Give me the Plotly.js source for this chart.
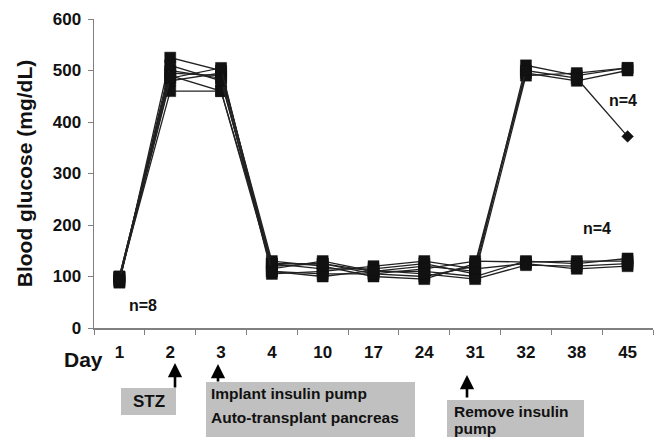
<!DOCTYPE html>
<html>
<head>
<meta charset="utf-8">
<script src="https://cdn.plot.ly/plotly-3.0.1.min.js"></script>
<style>html,body{margin:0;padding:0;background:#fff;}#chart{width:657px;height:437px;}</style>
</head>
<body>
<div id="chart"></div>
<script>
const days = ['1','2','3','4','10','17','24','31','32','38','45'];
const yTicks = [0,100,200,300,400,500,600];
const rat1 = [88, 525, 500, 120, 125, 110, 120, 110, 510, 490, 505];
const rat2 = [98, 500, 485, 110, 105, 105, 100, 120, 495, 480, 500];
const rat3 = [100, 490, 460, 125, 115, 115, 125, 105, 490, 495, 505];
const rat4 = [92, 480, 495, 130, 120, 100, 95, 125, 500, 485, 372];
const rat5 = [97, 460, 460, 115, 130, 110, 110, 100, 130, 125, 135];
const rat6 = [100, 495, 490, 105, 110, 120, 130, 115, 125, 115, 120];
const rat7 = [90, 510, 480, 125, 125, 105, 115, 130, 128, 130, 130];
const rat8 = [94, 485, 505, 110, 100, 112, 105, 95, 122, 120, 125];
const allRats = [rat1, rat2, rat3, rat4, rat5, rat6, rat7, rat8];

// plot area in pixels: left 94, right 653, top 19, bottom 328
const L = 94, R = 653, T = 19, B = 328;
const px = x => (x - L) / (R - L);
const py = y => (B - y) / (B - T);

const traces = allRats.map((vals, i) => {
  const symbols = vals.map((v, j) => (i === 3 && j === vals.length - 1) ? 'diamond' : 'square');
  const sizes = vals.map((v, j) => (i === 3 && j === vals.length - 1) ? 9 : 11);
  return {
    x: days, y: vals, type: 'scatter', mode: 'lines+markers',
    line: {color: '#222222', width: 1.3},
    marker: {color: '#111111', symbol: symbols, size: sizes, opacity: 1, line: {color: '#111111', width: 0.5}},
    opacity: 1,
    cliponaxis: false, showlegend: false, hoverinfo: 'x+y'
  };
});

const F = 'Liberation Sans, Arial, sans-serif';
const boxColor = '#c0c0c0';
function label(text, x, y, size, xanchor) {
  return {text: '<b>' + text + '</b>', xref: 'paper', yref: 'paper', x: px(x), y: py(y),
          xanchor: xanchor || 'center', yanchor: 'middle', showarrow: false,
          font: {size: size, family: F, color: '#111'}};
}
function arrow(x, yTip, yTail) {
  return {text: '', xref: 'paper', yref: 'paper', x: px(x), y: py(yTip), ax: 0, ay: yTail - yTip,
          showarrow: true, arrowhead: 2, arrowsize: 1.1, arrowwidth: 2.6, arrowcolor: '#000'};
}
const layout = {
  width: 657, height: 437,
  margin: {l: L, r: 657 - R, t: T, b: 437 - B},
  paper_bgcolor: '#ffffff', plot_bgcolor: '#ffffff',
  font: {family: F, color: '#111'},
  xaxis: {
    type: 'category', range: [-0.5, 10.5], tickson: 'boundaries',
    showgrid: false, zeroline: false, showline: true, linecolor: '#808080', linewidth: 1.5,
    ticks: 'outside', ticklen: 5, tickcolor: '#808080', tickwidth: 1, ticklabelstandoff: 8,
    tickfont: {family: F, size: 17, color: '#111', weight: 'bold'}, fixedrange: true
  },
  yaxis: {
    range: [0, 600], tickvals: yTicks, showgrid: false, zeroline: false,
    showline: true, linecolor: '#808080', linewidth: 1.5,
    ticks: 'outside', ticklen: 5, tickcolor: '#808080', tickwidth: 1, ticklabelstandoff: 3,
    tickfont: {family: F, size: 17, color: '#111', weight: 'bold'},
    title: {text: 'Blood glucose (mg/dL)', font: {family: F, size: 21, color: '#111', weight: 'bold'}, standoff: 14},
    fixedrange: true
  },
  shapes: [
    {type: 'rect', xref: 'paper', yref: 'paper', x0: px(121), x1: px(176), y0: py(415), y1: py(388), fillcolor: boxColor, line: {width: 0}, layer: 'below'},
    {type: 'rect', xref: 'paper', yref: 'paper', x0: px(206), x1: px(415), y0: py(445), y1: py(382), fillcolor: boxColor, line: {width: 0}, layer: 'below'},
    {type: 'rect', xref: 'paper', yref: 'paper', x0: px(447), x1: px(584), y0: py(445), y1: py(400), fillcolor: boxColor, line: {width: 0}, layer: 'below'}
  ],
  annotations: [
    label('Day', 83, 359, 21),
    label('n=8', 143, 305, 16),
    label('n=4', 623, 101, 16),
    label('n=4', 597, 228, 16),
    label('STZ', 149, 401, 17),
    label('Implant insulin pump', 209, 393, 15.5, 'left'),
    label('Auto-transplant pancreas', 209, 417, 15.5, 'left'),
    label('Remove insulin', 452, 411, 15.5, 'left'),
    label('pump', 452, 428, 15.5, 'left'),
    arrow(175, 363, 389),
    arrow(218, 364, 383),
    arrow(467, 375, 399)
  ]
};

Plotly.newPlot('chart', traces, layout, {displayModeBar: false, staticPlot: true});
</script>
</body>
</html>
